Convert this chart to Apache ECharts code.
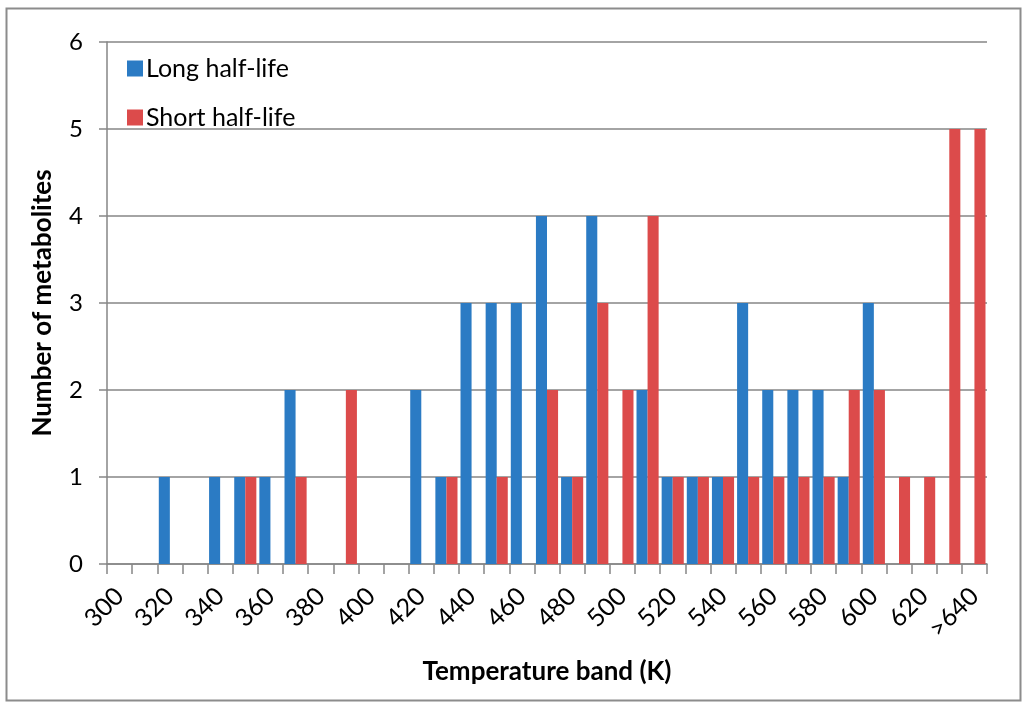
<!DOCTYPE html>
<html>
<head>
<meta charset="utf-8">
<script src="https://cdn.jsdelivr.net/npm/echarts@6/dist/echarts.min.js"></script>
<style>html,body{margin:0;padding:0;background:#fff;}#c{width:1024px;height:706px;}</style>
</head>
<body>
<div id="c"></div>
<script>
const categories = ['300','310','320','330','340','350','360','370','380','390','400','410','420','430','440','450','460','470','480','490','500','510','520','530','540','550','560','570','580','590','600','610','620','630','>640'];
const longHalfLife  = [0,0,1,0,1,1,1,2,0,0,0,0,2,1,3,3,3,4,1,4,0,2,1,1,1,3,2,2,2,1,3,0,0,0,0];
const shortHalfLife = [0,0,0,0,0,1,0,1,0,2,0,0,0,1,0,1,0,2,1,3,2,4,1,1,1,1,1,1,1,2,2,1,1,5,5];
const yTicks = [0,1,2,3,4,5,6];

const FONT = 'Lato, "Open Sans", sans-serif';
const AX = '#868686';
const chart = echarts.init(document.getElementById('c'));
chart.setOption({
  animation: false,
  backgroundColor: '#fff',
  graphic: [{
    type: 'rect', left: 4, top: 6,
    shape: { width: 1014, height: 692 },
    style: { fill: 'none', stroke: '#8c8c8c', lineWidth: 2 }
  }],
  grid: { left: 107, right: 37, top: 42, bottom: 142 },
  legend: {
    orient: 'vertical', left: 122, top: 51,
    itemWidth: 16, itemHeight: 16, itemGap: 24,
    icon: 'rect',
    textStyle: { fontFamily: FONT, fontSize: 25, color: '#000', padding: [0,0,0,-2] },
    data: ['Long half-life', 'Short half-life']
  },
  xAxis: {
    type: 'category', data: categories,
    name: 'Temperature band (K)', nameLocation: 'middle', nameGap: 95,
    nameTextStyle: { fontFamily: FONT, fontSize: 26, fontWeight: 'bold', color: '#000' },
    axisLine: { lineStyle: { color: AX, width: 1.5 } },
    axisTick: { show: true, interval: 0, length: 10, lineStyle: { color: AX, width: 1.5 } },
    axisLabel: { interval: 1, rotate: 45, margin: 28, fontFamily: FONT, fontSize: 25, color: '#000' },
    splitLine: { show: false }
  },
  yAxis: {
    type: 'value', min: yTicks[0], max: yTicks[yTicks.length-1], interval: 1,
    name: 'Number of metabolites', nameLocation: 'middle', nameGap: 51,
    nameTextStyle: { fontFamily: FONT, fontSize: 26, fontWeight: 'bold', color: '#000' },
    axisLine: { show: true, lineStyle: { color: AX, width: 1.5 } },
    axisTick: { show: true, length: 8, inside: false, lineStyle: { color: AX, width: 1.5 } },
    axisLabel: { margin: 24, fontFamily: FONT, fontSize: 24, color: '#000' },
    splitLine: { show: true, lineStyle: { color: AX, width: 1.5 } }
  },
  series: [
    { name: 'Long half-life', type: 'bar', data: longHalfLife, barGap: '0%', barCategoryGap: '12%', itemStyle: { color: '#2B7BC4' } },
    { name: 'Short half-life', type: 'bar', data: shortHalfLife, barGap: '0%', barCategoryGap: '12%', itemStyle: { color: '#DC4B4B' } }
  ]
});
</script>
</body>
</html>
